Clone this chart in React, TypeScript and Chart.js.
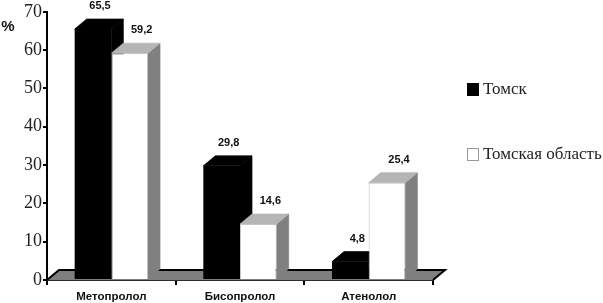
import React, { useEffect, useRef } from "react";
import { Chart, registerables } from "chart.js";

Chart.register(...registerables);

const categories = ["Метопролол", "Бисопролол", "Атенолол"];
const tomsk = [65.5, 29.8, 4.8];
const region = [59.2, 14.6, 25.4];
const seriesNames = ["Томск", "Томская область"];
const valueTexts = [
  ["65,5", "29,8", "4,8"],
  ["59,2", "14,6", "25,4"],
];
const yTicks = [0, 10, 20, 30, 40, 50, 60, 70];

const DX = 12;
const DY = 10;
const LABEL_DX = [7, 12];

function poly(ctx: CanvasRenderingContext2D, pts: number[][], fill: string) {
  ctx.beginPath();
  pts.forEach((p, i) => (i ? ctx.lineTo(p[0], p[1]) : ctx.moveTo(p[0], p[1])));
  ctx.closePath();
  ctx.fillStyle = fill;
  ctx.strokeStyle = fill;
  ctx.lineWidth = 0.7;
  ctx.fill();
  ctx.stroke();
}

const solidPlugin = {
  id: "solid",
  beforeDatasetsDraw(chart: any) {
    const { ctx, chartArea: a } = chart;
    ctx.save();
    // floor of the 3D box
    poly(ctx, [[a.left, a.bottom], [a.left + DX, a.bottom - DY], [a.right + DX, a.bottom - DY], [a.right, a.bottom]], "#7f7f7f");
    ctx.strokeStyle = "#000";
    ctx.lineWidth = 2;
    ctx.beginPath();
    ctx.moveTo(a.left, a.bottom);
    ctx.lineTo(a.left + DX, a.bottom - DY);
    ctx.lineTo(a.right + DX, a.bottom - DY);
    ctx.lineTo(a.right, a.bottom);
    ctx.stroke();
    // sides and tops of the bars
    chart.data.datasets.forEach((ds: any, i: number) => {
      chart.getDatasetMeta(i).data.forEach((bar: any) => {
        const p = bar.getProps(["x", "y", "base", "width"], true);
        const l = p.x - p.width / 2;
        const r = p.x + p.width / 2;
        poly(ctx, [[r, p.y], [r + DX, p.y - DY], [r + DX, p.base - DY], [r, p.base]], ds.sideColor);
        poly(ctx, [[l, p.y], [l + DX, p.y - DY], [r + DX, p.y - DY], [r, p.y]], ds.topColor);
      });
    });
    ctx.restore();
  },
  afterDatasetsDraw(chart: any) {
    const { ctx } = chart;
    ctx.save();
    ctx.fillStyle = "#111";
    ctx.font = "bold 11px 'Liberation Sans'";
    ctx.textAlign = "center";
    ctx.textBaseline = "middle";
    chart.data.datasets.forEach((_: any, i: number) => {
      chart.getDatasetMeta(i).data.forEach((bar: any, j: number) => {
        const p = bar.getProps(["x", "y"], true);
        ctx.fillText(valueTexts[i][j], p.x + LABEL_DX[i], p.y - 23);
      });
    });
    ctx.font = "bold 15px 'Liberation Sans'";
    ctx.fillText("%", 8, 27);
    // legend
    const rows = [90, 155];
    chart.data.datasets.forEach((ds: any, i: number) => {
      ctx.fillStyle = i === 0 ? "#000" : "#fff";
      ctx.strokeStyle = i === 0 ? "#000" : "#999";
      ctx.lineWidth = 1;
      ctx.fillRect(467.5, rows[i] - 6.5, 11, 12);
      ctx.strokeRect(467.5, rows[i] - 6.5, 11, 12);
      ctx.fillStyle = "#222";
      ctx.textAlign = "left";
      ctx.font = "17px 'Liberation Serif'";
      ctx.fillText(ds.label, 483, rows[i]);
    });
    ctx.restore();
  },
};

export default function App() {
  const ref = useRef<HTMLCanvasElement>(null);
  useEffect(() => {
    const chart = new Chart(ref.current!, {
      type: "bar",
      data: {
        labels: categories,
        datasets: [
          { label: seriesNames[0], data: tomsk, backgroundColor: "#000", topColor: "#000", sideColor: "#000" } as any,
          { label: seriesNames[1], data: region, backgroundColor: "#fff", borderColor: "#c4c4c4", borderWidth: 1, topColor: "#b5b5b5", sideColor: "#808080" } as any,
        ],
      },
      options: {
        animation: false,
        responsive: false,
        layout: { padding: { top: 11, right: 170, left: 0, bottom: 0 } },
        plugins: { legend: { display: false }, tooltip: { enabled: false } },
        datasets: { bar: { categoryPercentage: 0.57, barPercentage: 1 } },
        scales: {
          x: {
            afterFit(s: any) { s.height = 23; },
            border: { color: "#000", width: 2 },
            grid: { drawOnChartArea: false, color: "#000", tickLength: 5, lineWidth: 2 },
            ticks: { color: "#111", padding: 5, font: { family: "'Liberation Sans'", size: 11.5, weight: "bold" }, maxRotation: 0 },
          },
          y: {
            min: 0,
            max: 70,
            afterFit(s: any) { s.width = 47; },
            afterBuildTicks(s: any) { s.ticks = yTicks.map((value) => ({ value })); },
            border: { color: "#000", width: 2 },
            grid: { drawOnChartArea: false, color: "#000", tickLength: 4, lineWidth: 2 },
            ticks: { color: "#222", padding: 1, font: { family: "'Liberation Serif'", size: 18 } },
          },
        },
      },
      plugins: [solidPlugin],
    } as any);
    return () => chart.destroy();
  }, []);
  return (
    <div style={{ position: "fixed", left: 0, top: 0, width: 603, height: 303, background: "#fff" }}>
      <canvas ref={ref} width={603} height={303} style={{ display: "block" }} />
    </div>
  );
}
